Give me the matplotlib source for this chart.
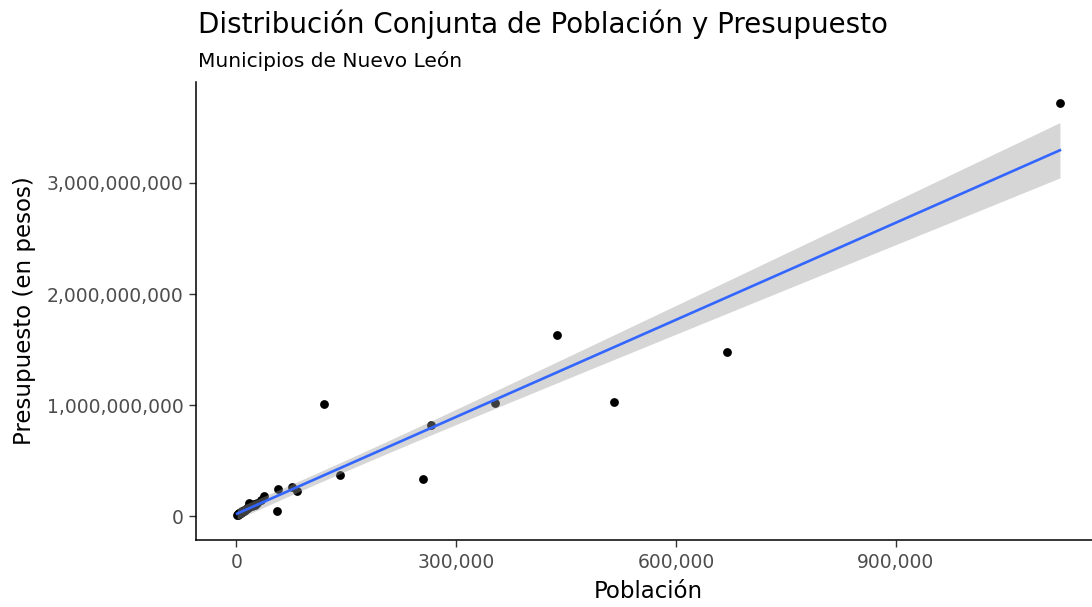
import numpy as np
import matplotlib.pyplot as plt
from matplotlib.ticker import FuncFormatter

plt.rcParams['font.family'] = ['DejaVu Sans']

# poblacion y presupuesto por municipio
poblacion = [1124000, 437000, 669000, 516000, 353000, 265000, 255000, 142000,
             120000, 83000, 76500, 57400, 56000, 38000, 34000, 28000, 17700,
             1500, 2500, 3000, 4200, 5000, 6000, 6500, 7500, 8000, 9000, 10000,
             11000, 12500, 13000, 14500, 15500, 16000, 18500, 19500, 21000,
             22500, 24000, 25500, 2000, 3500, 4500, 5500, 7000, 8500, 9500,
             11500, 1000, 3800, 6200]
presupuesto = [3.72e9, 1.63e9, 1.48e9, 1.03e9, 1.02e9, 0.82e9, 0.34e9, 0.37e9,
               1.01e9, 0.225e9, 0.26e9, 0.25e9, 0.045e9, 0.18e9, 0.15e9, 0.12e9, 0.12e9,
               0.015e9, 0.02e9, 0.025e9, 0.03e9, 0.03e9, 0.035e9, 0.04e9, 0.04e9, 0.05e9,
               0.045e9, 0.05e9, 0.06e9, 0.065e9, 0.07e9, 0.075e9, 0.08e9, 0.085e9,
               0.09e9, 0.1e9, 0.09e9, 0.1e9, 0.11e9, 0.1e9, 0.02e9, 0.025e9, 0.03e9,
               0.035e9, 0.04e9, 0.045e9, 0.05e9, 0.055e9, 0.012e9, 0.028e9, 0.038e9]

x = np.array(poblacion, dtype=float)
y = np.array(presupuesto, dtype=float)

# ajuste lineal con banda de confianza (como geom_smooth(method = "lm"))
n = len(x)
b1, b0 = np.polyfit(x, y, 1)
resid = y - (b0 + b1 * x)
s = np.sqrt(np.sum(resid ** 2) / (n - 2))
xs = np.linspace(x.min(), x.max(), 80)
ys = b0 + b1 * xs
se = s * np.sqrt(1 / n + (xs - x.mean()) ** 2 / np.sum((x - x.mean()) ** 2))
t = 2.01

fig = plt.figure(figsize=(10.92, 6.07), dpi=100)
ax = fig.add_axes([0.1795, 0.110, 0.8288, 0.755])

ax.scatter(x, y, s=40, color='black', zorder=2, linewidths=0)
ax.fill_between(xs, ys - t * se, ys + t * se, color='#999999', alpha=0.4, linewidth=0, zorder=3)
ax.plot(xs, ys, color='#3366FF', linewidth=1.9, zorder=4)

ax.margins(x=0.05, y=0.05)
ax.set_xticks([0, 300000, 600000, 900000])
ax.set_yticks([0, 1e9, 2e9, 3e9])
fmt = FuncFormatter(lambda v, p: f'{int(v):,}')
ax.xaxis.set_major_formatter(fmt)
ax.yaxis.set_major_formatter(fmt)

for side in ['top', 'right']:
    ax.spines[side].set_visible(False)
for side in ['left', 'bottom']:
    ax.spines[side].set_linewidth(1.1)
ax.tick_params(length=5, width=1.0, color='#333333', labelcolor='#4D4D4D', labelsize=13.5, pad=4)

ax.set_xlabel('Población', fontsize=16.5, labelpad=6)
ax.set_ylabel('Presupuesto (en pesos)', fontsize=16.5, labelpad=8)

fig.text(0.181, 0.946, 'Distribución Conjunta de Población y Presupuesto', fontsize=20, ha='left', va='baseline')
fig.text(0.181, 0.889, 'Municipios de Nuevo León', fontsize=14.5, ha='left', va='baseline')

fig.savefig('out.png', dpi=100)
